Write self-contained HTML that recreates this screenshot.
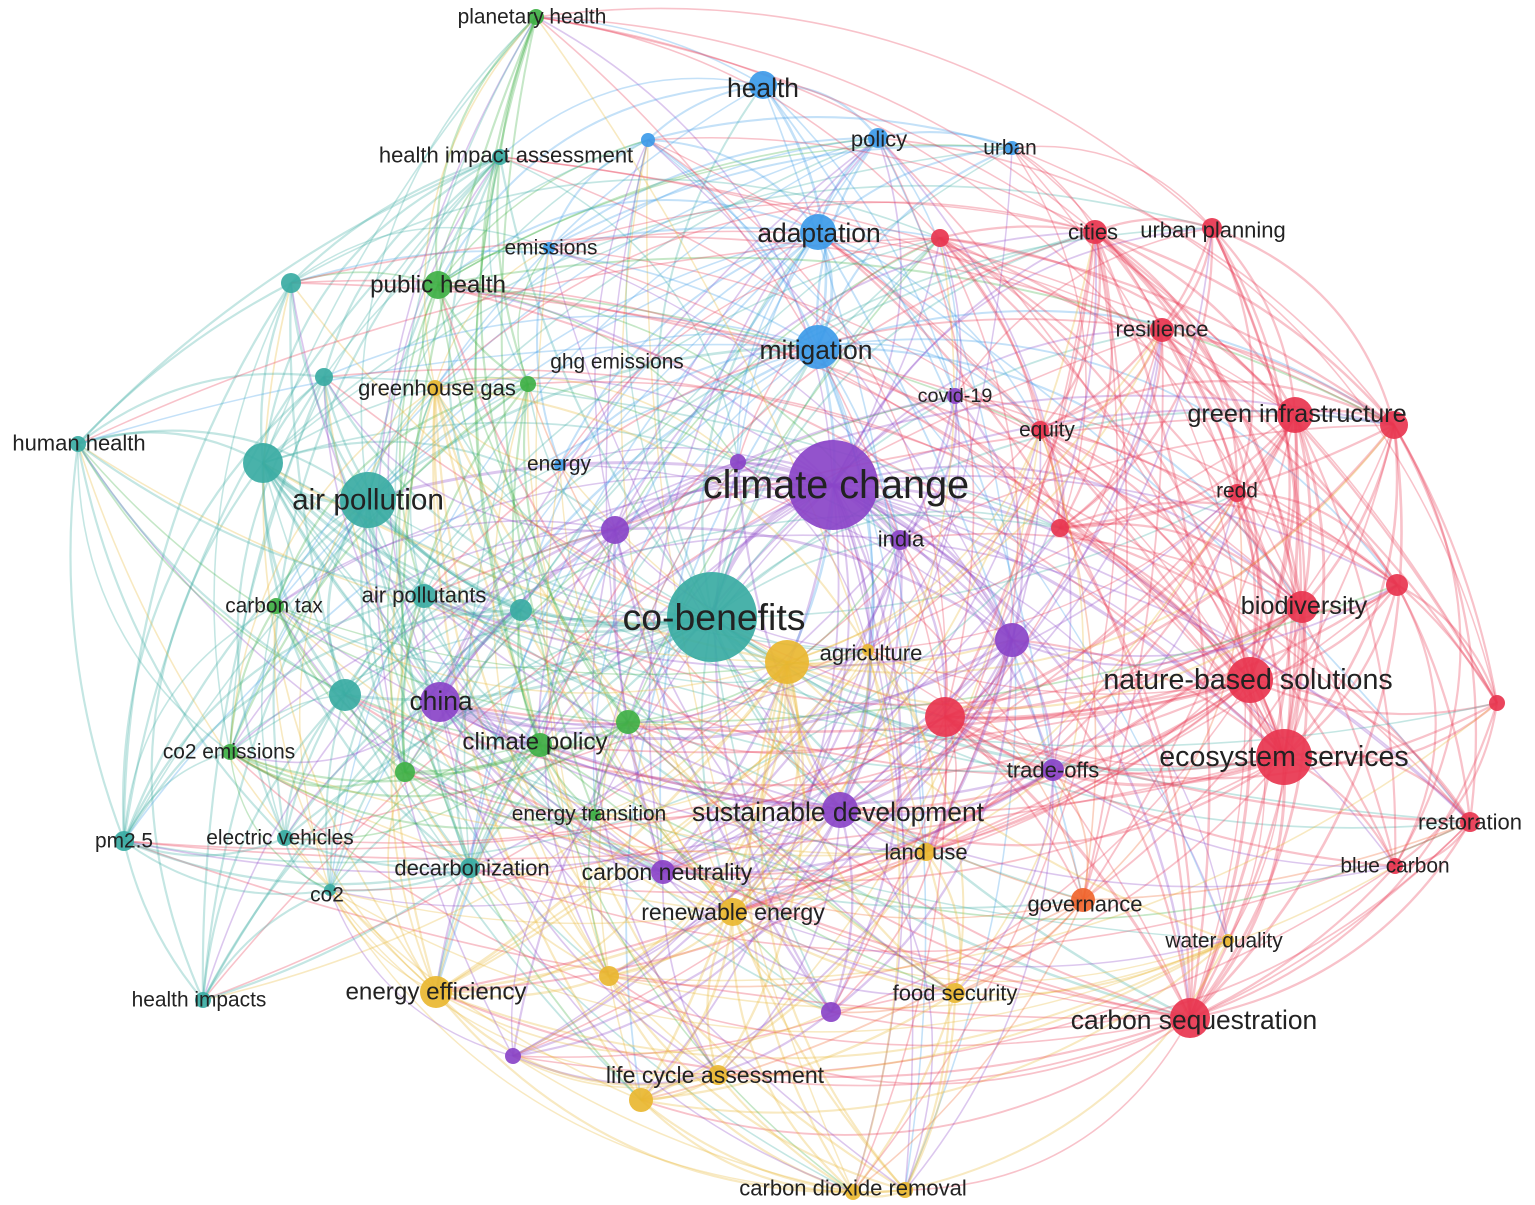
<!DOCTYPE html>
<html><head><meta charset="utf-8"><style>
html,body{margin:0;padding:0;background:#fff;}
svg{display:block;}
text{font-family:"Liberation Sans",sans-serif;fill:#222;text-anchor:middle;dominant-baseline:central;}
</style></head><body>
<svg id="s" width="1535" height="1205" viewBox="0 0 1535 1205" xmlns="http://www.w3.org/2000/svg">
<g id="e"></g><g id="n"></g><g id="t"></g>
</svg>
<script>
const C={t:'#3aaba3',p:'#8a44c8',r:'#e8354f',b:'#3d9be9',g:'#3fb045',y:'#e9b731',o:'#f0652c'};
const N=[
[833,485,45,'p','climate change',836,485,36],
[712,617,45,'t','co-benefits',714,617,34],
[368,500,28,'t','air pollution',368,500,27],
[263,463,20,'t','',0,0,0],
[763,85,14,'b','health',763,88,24],
[878,138,10,'b','policy',879,139,20],
[1012,148,7,'b','urban',1010,148,19],
[500,157,8,'t','health impact assessment',506,155,20],
[648,140,7,'b','',0,0,0],
[818,232,18,'b','adaptation',819,233,24],
[549,248,6,'b','emissions',551,248,19],
[438,285,14,'g','public health',438,285,22],
[818,347,22,'b','mitigation',816,350,24],
[528,384,8,'g','ghg emissions',617,362,19],
[435,388,8,'y','greenhouse gas',437,388,20],
[291,283,10,'t','',0,0,0],
[324,377,9,'t','',0,0,0],
[78,444,8,'t','human health',79,443,20],
[560,465,6,'b','energy',559,464,19],
[738,462,8,'p','',0,0,0],
[615,530,14,'p','',0,0,0],
[900,540,10,'p','india',901,539,20],
[955,396,8,'p','covid-19',955,396,18],
[1040,430,9,'r','equity',1047,430,19],
[940,238,9,'r','',0,0,0],
[1095,232,12,'r','cities',1093,232,20],
[1212,228,10,'r','urban planning',1213,230,20],
[1162,330,12,'r','resilience',1162,329,20],
[1295,415,18,'r','green infrastructure',1297,414,23],
[1394,425,14,'r','',0,0,0],
[1237,493,9,'r','redd',1237,491,19],
[1060,528,9,'r','',0,0,0],
[1302,607,16,'r','biodiversity',1304,606,23],
[1397,585,11,'r','',0,0,0],
[1250,680,23,'r','nature-based solutions',1248,680,26],
[1497,703,8,'r','',0,0,0],
[1284,757,28,'r','ecosystem services',1284,757,26],
[1470,822,10,'r','restoration',1470,822,20],
[1395,866,8,'r','blue carbon',1395,866,19],
[1228,940,6,'y','water quality',1224,941,19],
[1083,900,12,'o','governance',1085,904,20],
[1190,1018,20,'r','carbon sequestration',1194,1020,24],
[945,717,20,'r','',0,0,0],
[1012,640,17,'p','',0,0,0],
[1053,770,11,'p','trade-offs',1053,770,20],
[926,852,9,'y','land use',926,852,20],
[787,662,22,'y','agriculture',871,653,20],
[868,650,6,'y','',0,0,0],
[840,810,18,'p','sustainable development',838,812,24],
[663,872,12,'p','carbon neutrality',667,872,21],
[733,912,14,'y','renewable energy',733,912,21],
[955,993,10,'y','food security',955,993,20],
[831,1012,10,'p','',0,0,0],
[853,1192,8,'y','carbon dioxide removal',853,1188,20],
[905,1190,8,'y','',0,0,0],
[718,1075,10,'y','life cycle assessment',715,1075,21],
[641,1100,12,'y','',0,0,0],
[513,1056,8,'p','',0,0,0],
[609,976,10,'y','',0,0,0],
[436,992,16,'y','energy efficiency',436,992,22],
[203,1000,8,'t','health impacts',199,1000,19],
[124,841,10,'t','pm2.5',124,841,19],
[285,838,8,'t','electric vehicles',280,838,19],
[330,890,6,'t','co2',327,895,19],
[470,868,10,'t','decarbonization',472,868,20],
[595,815,6,'g','energy transition',589,814,19],
[540,745,12,'g','climate policy',535,742,22],
[628,722,12,'g','',0,0,0],
[405,772,10,'g','',0,0,0],
[230,752,8,'g','co2 emissions',229,752,19],
[345,695,16,'t','',0,0,0],
[440,702,20,'p','china',441,701,24],
[424,596,12,'t','air pollutants',424,595,20],
[521,610,11,'t','',0,0,0],
[276,606,8,'g','carbon tax',274,606,19],
[536,17,8,'g','planetary health',532,17,19]
];
const E=document.getElementById('e'),G=document.getElementById('n'),T=document.getElementById('t');
let seed=7;function rnd(){seed=(seed*16807)%2147483647;return seed/2147483647;}
let paths='';
for(let i=0;i<N.length;i++)for(let j=i+1;j<N.length;j++){
 const a=N[i],b=N[j];
 let p=0.03+ (a[2]+b[2])/130;
 if(a[3]==b[3])p+=0.4;
 const d=Math.hypot(a[0]-b[0],a[1]-b[1]);
 if(d<400)p+=0.12; else if(d>800)p-=0.1;
 if(rnd()<p){
  const s=a[2]>=b[2]?a:b;
  const mx=(a[0]+b[0])/2,my=(a[1]+b[1])/2;
  // bow outward from center
  const ox=mx-780,oy=my-600;
  const nx=-(b[1]-a[1]),ny=(b[0]-a[0]);
  let k=(0.08+rnd()*0.22);
  if(nx*ox+ny*oy<0)k=-k;
  const cx=mx+nx*k,cy=my+ny*k;
  const w=(a[3]==b[3]?1.6:1.0)+Math.min(a[2],b[2])/14;
  paths+=`<path d="M${a[0]},${a[1]} Q${cx.toFixed(1)},${cy.toFixed(1)} ${b[0]},${b[1]}" stroke="${C[s[3]]}" stroke-opacity="0.3" stroke-width="${w.toFixed(2)}" fill="none"/>`;
 }
}
E.innerHTML=paths;
let nh='',th='';
for(const a of N){
 nh+=`<circle cx="${a[0]}" cy="${a[1]}" r="${a[2]}" fill="${C[a[3]]}" fill-opacity="0.92"/>`;
 if(a[4])th+=`<text x="${a[5]}" y="${a[6]}" font-size="${(a[7]*1.1).toFixed(1)}">${a[4]}</text>`;
}
G.innerHTML=nh;T.innerHTML=th;
</script>
</body></html>
